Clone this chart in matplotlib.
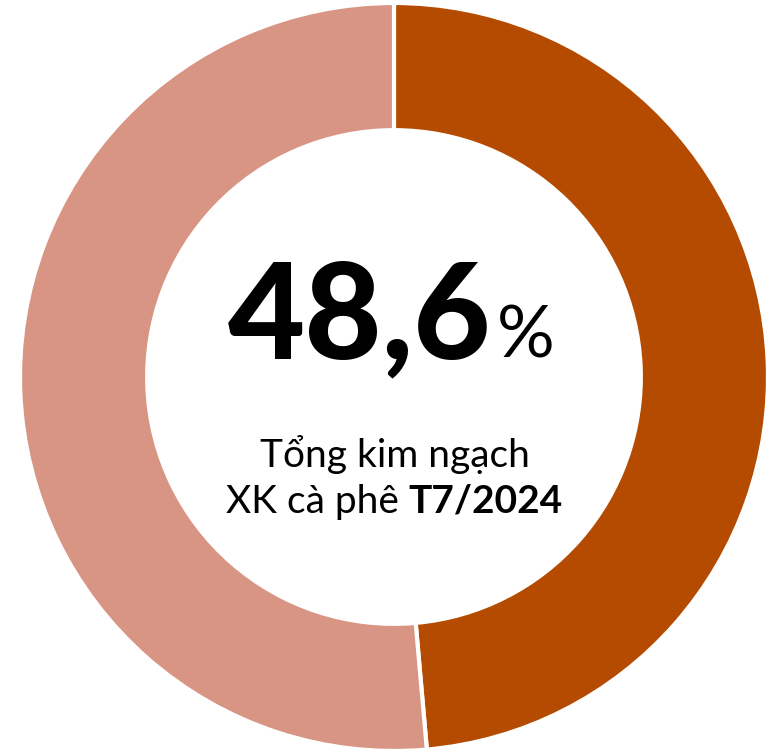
import matplotlib
matplotlib.use("Agg")
import matplotlib.pyplot as plt

labels = ["Cà phê", "Khác"]
values = [48.6, 51.4]
colors = ["#B54B00", "#D99584"]
big_value = "48,6"
line1 = "Tổng kim ngạch"
line2a = "XK cà phê"
line2b = "T7/2024"

W, H = 768, 751
fig = plt.figure(figsize=(W/100, H/100), dpi=100)
ax = fig.add_axes([20/W, 0/H, 748/W, 748/H])
ax.pie(values, colors=colors, startangle=90, counterclock=False, radius=1.0,
       wedgeprops=dict(width=0.34, edgecolor="white", linewidth=3))
ax.set_xlim(-1, 1)
ax.set_ylim(-1, 1)
ax.set_aspect("equal")
ax.axis("off")

fam = ["Lato", "Noto Sans", "DejaVu Sans"]
def fx(x): return x / W
def fy(y): return 1 - y / H

fig.text(fx(491), fy(358), big_value, ha="right", va="baseline", fontsize=96,
         fontweight=900, family=fam, color="black")
fig.text(fx(497), fy(357), "%", ha="left", va="baseline", fontsize=52,
         family=fam, color="black")
fig.text(fx(395), fy(467), line1, ha="center", va="baseline", fontsize=28,
         family=fam, color="black")

renderer = fig.canvas.get_renderer()
ta = fig.text(0, fy(513), line2a + " ", ha="left", va="baseline", fontsize=28,
              family=fam, color="black")
tb = fig.text(0, fy(513), line2b, ha="left", va="baseline", fontsize=28,
              fontweight="bold", family=fam, color="black")
wa = ta.get_window_extent(renderer).width
wb = tb.get_window_extent(renderer).width
x0 = 394 - (wa + wb) / 2
ta.set_x(fx(x0))
tb.set_x(fx(x0 + wa))

fig.savefig("out.png", dpi=100)
